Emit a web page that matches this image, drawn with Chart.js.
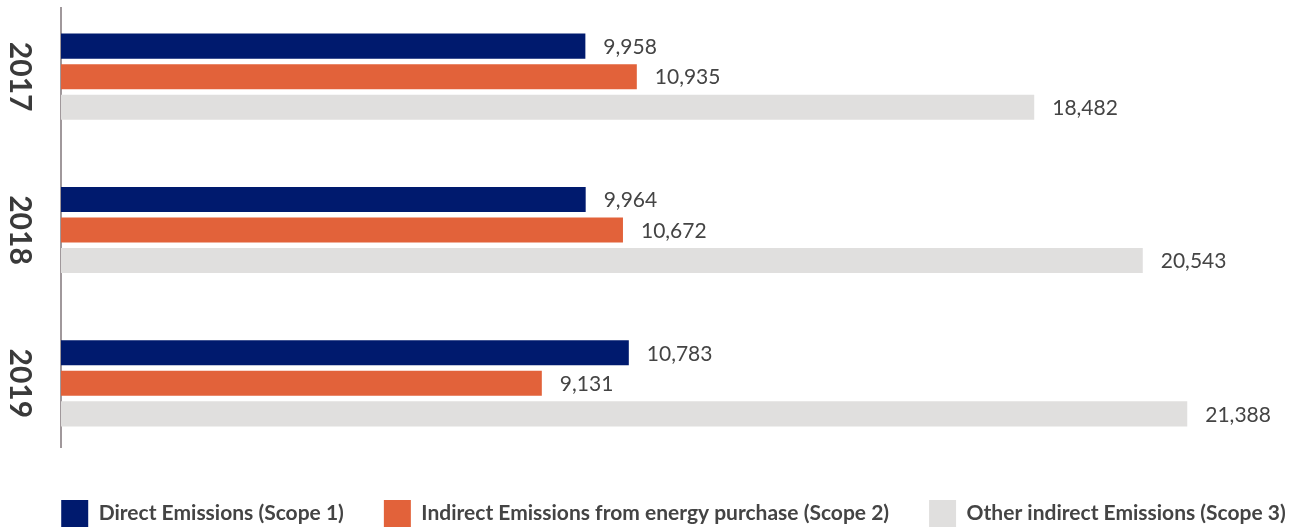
<!DOCTYPE html>
<html>
<head>
<meta charset="utf-8">
<title>Emissions by scope</title>
<script src="https://cdn.jsdelivr.net/npm/chart.js@4"></script>
<style>
  html, body { margin: 0; padding: 0; background: #fff; }
  #wrap { width: 1309px; height: 531px; position: relative; }
</style>
</head>
<body>
<div id="wrap"><canvas id="chart"></canvas></div>
<script>
// data
const years = ["2017", "2018", "2019"];
const seriesNames = [
    "Direct Emissions (Scope 1)",
    "Indirect Emissions from energy purchase (Scope 2)",
    "Other indirect Emissions (Scope 3)"
];
const scope1 = [9958, 9964, 10783];
const scope2 = [10935, 10672, 9131];
const scope3 = [18482, 20543, 21388];

const colors = ["#001a6e", "#e2623a", "#e0dfde"];

// vertical axis line, a bit shorter than the plot area
const axisLine = {
    id: "axisLine",
    beforeDatasetsDraw(chart) {
        const { ctx, chartArea } = chart;
        ctx.save();
        ctx.strokeStyle = "#a0989b";
        ctx.lineWidth = 2;
        ctx.beginPath();
        ctx.moveTo(chartArea.left, chartArea.top + 7);
        ctx.lineTo(chartArea.left, chartArea.bottom - 12);
        ctx.stroke();
        ctx.restore();
    }
};

// value labels at the end of each bar
const valueLabels = {
    id: "valueLabels",
    afterDatasetsDraw(chart) {
        const ctx = chart.ctx;
        ctx.save();
        ctx.font = "21px Lato";
        ctx.fillStyle = "#444";
        ctx.textAlign = "left";
        ctx.textBaseline = "middle";
        chart.data.datasets.forEach((ds, i) => {
            const meta = chart.getDatasetMeta(i);
            meta.data.forEach((bar, j) => {
                const txt = ds.data[j].toLocaleString("en-US");
                ctx.fillText(txt, bar.x + 18, bar.y + 1);
            });
        });
        ctx.restore();
    }
};

// nudge the legend row a little to the right, like the original
const legendShift = {
    id: "legendShift",
    afterLayout(chart) {
        if (chart.legend) {
            chart.legend.left += 19;
            chart.legend.right += 19;
        }
    }
};

const ctx = document.getElementById("chart").getContext("2d");
new Chart(ctx, {
    type: "bar",
    data: {
        labels: years,
        datasets: [scope1, scope2, scope3].map((vals, i) => ({
            label: seriesNames[i],
            data: vals,
            backgroundColor: colors[i],
            borderWidth: 0,
            categoryPercentage: 0.598,
            barPercentage: 0.82
        }))
    },
    options: {
        indexAxis: "y",
        responsive: true,
        maintainAspectRatio: false,
        animation: false,
        layout: { padding: 0 },
        scales: {
            x: {
                display: false,
                min: 0,
                max: 23700
            },
            y: {
                grid: { display: false, drawTicks: false },
                border: { display: false },
                ticks: {
                    autoSkip: false,
                    minRotation: -90,
                    maxRotation: -90,
                    crossAlign: "center",
                    padding: 7,
                    color: "#3a3a3a",
                    font: { family: "Lato", weight: "bold", size: 30 }
                },
                afterFit(scale) {
                    scale.width = 61;
                    scale.paddingTop = 0;
                    scale.paddingBottom = 0;
                }
            }
        },
        plugins: {
            legend: {
                position: "bottom",
                maxHeight: 71,
                labels: {
                    boxWidth: 27,
                    boxHeight: 27,
                    padding: 40,
                    color: "#444",
                    font: { family: "Lato", weight: "bold", size: 21 }
                }
            },
            tooltip: { enabled: false }
        }
    },
    plugins: [axisLine, valueLabels, legendShift]
});
</script>
</body>
</html>
